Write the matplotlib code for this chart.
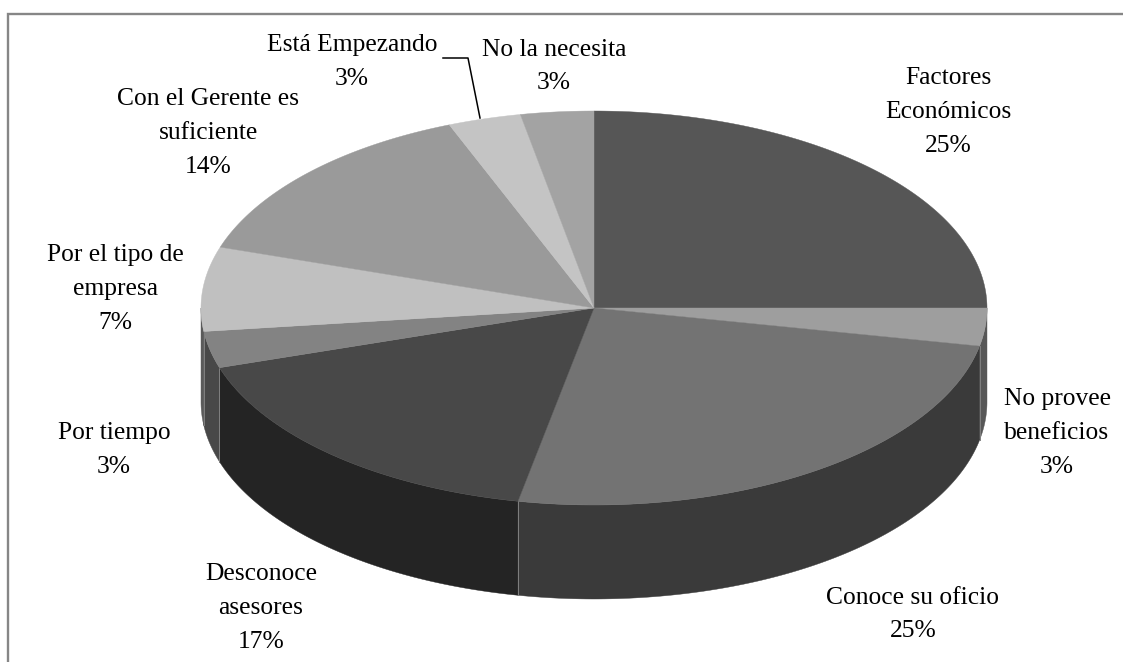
import numpy as np
import matplotlib
matplotlib.use("Agg")
import matplotlib.pyplot as plt

categories = ["Factores\nEconómicos", "No provee\nbeneficios", "Conoce su oficio",
              "Desconoce\nasesores", "Por tiempo", "Por el tipo de\nempresa",
              "Con el Gerente es\nsuficiente", "Está Empezando", "No la necesita"]
values = [25.0, 3.1, 25.0, 17.0, 3.0, 6.9, 14.0, 3.0, 3.0]
top_colors = ["#565656", "#9e9e9e", "#737373", "#484848", "#838383",
              "#c0c0c0", "#9a9a9a", "#c4c4c4", "#a3a3a3"]
side_colors = ["#3f3f3f", "#575757", "#3a3a3a", "#242424", "#484848",
               "#5a5a5a", "#444444", "#555555", "#444444"]
label_pos = [(948, 112), (1057, 433), (913, 614.5), (261, 608), (114, 450),
             (115, 289), (208, 133), (352, 62), (554, 66.5)]

CX, CY, RX, RY, DEPTH = 594, 308, 393, 197, 94

plt.rcParams['font.family'] = ['Liberation Serif', 'DejaVu Serif']
fig = plt.figure(figsize=(11.23, 6.62), dpi=100, facecolor="white")
ax = fig.add_axes([0, 0, 1, 1])
ax.set_xlim(0, 1123)
ax.set_ylim(662, 0)
ax.axis("off")

def pt(t, dy=0):
    t = np.asarray(t)
    return CX + RX * np.sin(t), CY - RY * np.cos(t) + dy

fractions = np.array(values) / sum(values)
edges = np.concatenate([[0], np.cumsum(fractions)]) * 2 * np.pi

# sides: only the front half of the rim (pi/2 .. 3pi/2) is visible
lo, hi = np.pi / 2, 3 * np.pi / 2
for a, b, c in zip(edges[:-1], edges[1:], side_colors):
    s, e = max(a, lo), min(b, hi)
    if e <= s:
        continue
    t = np.linspace(s, e, 100)
    x, y = pt(t)
    xb, yb = pt(t[::-1], DEPTH)
    ax.fill(np.r_[x, xb], np.r_[y, yb], facecolor=c, edgecolor=c, lw=0.3, zorder=2)
    for tt in (s, e):
        if lo < tt < hi:
            x0, y0 = pt(tt)
            ax.plot([x0, x0], [y0, y0 + DEPTH], color="#808080", lw=0.6, zorder=3)

# top face
for a, b, c in zip(edges[:-1], edges[1:], top_colors):
    t = np.linspace(a, b, 200)
    x, y = pt(t)
    ax.fill(np.r_[CX, x], np.r_[CY, y], facecolor=c, edgecolor=c, lw=0.3, zorder=4)

# labels
for name, v, f, (lx, ly) in zip(categories, values, fractions, label_pos):
    ax.text(lx, ly, f"{name}\n{f * 100:.0f}%", ha="center", va="center", fontsize=18.4,
            color="black", linespacing=1.68, zorder=6)

# leader line of "Está Empezando"
ax.plot([443, 468, 480], [58, 58, 118], color="black", lw=1.1, zorder=5)

# chart frame (open at the bottom and on the right)
ax.plot([7.5, 7.5, 1123], [662, 13.5, 13.5], color="#868686", lw=1.7, zorder=7,
        solid_joinstyle="miter")

fig.savefig("out.png", dpi=100)
